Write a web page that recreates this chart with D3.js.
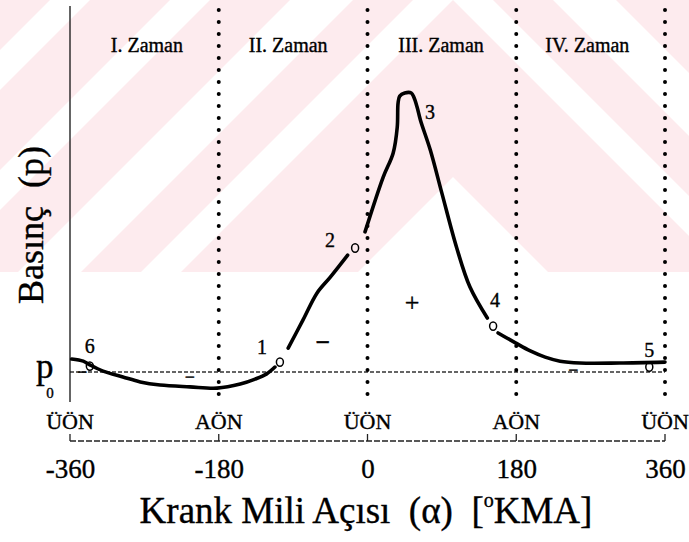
<!DOCTYPE html>
<html><head><meta charset="utf-8">
<script src="https://cdn.jsdelivr.net/npm/d3@7"></script>
<style>
body{margin:0;background:#fff}
svg{display:block}
text{font-family:"Liberation Serif","Times New Roman",serif;fill:#000;white-space:pre;stroke:#000;stroke-width:0.35px}
</style>
</head><body>
<svg id="c" width="689" height="542"></svg>
<script>
// ---------------- data ----------------
const tickAngles = [-360, -180, 0, 180, 360];
const tickLabels = ["-360", "-180", "0", "180", "360"];
const deadCenters = ["ÜÖN", "AÖN", "ÜÖN", "AÖN", "ÜÖN"];
const strokeNames = ["I. Zaman", "II. Zaman", "III. Zaman", "IV. Zaman"];
const strokeMid = [-267, -96, 89, 266];
const p0 = 1;
// pressure curve (relative units, p0 = 1), split at the marked points
const seg61 = [[-358,1.42],[-344,1.35],[-336,1.23],[-320,1.03],[-296,0.84],[-275,0.68],[-251,0.58],[-215,0.52],[-182,0.48],[-154,0.61],[-136,0.77],[-122,0.94],[-112,1.16]];
const seg12 = [[-96,1.77],[-78,2.68],[-61,3.55],[-45,4.06],[-24,4.77]];
const seg24 = [[-3,5.52],[19,7.29],[31,8.06],[36,8.9],[37,9.68],[39,9.9],[45,10.0],[53,10.0],[56,9.87],[60,9.55],[64,9.13],[76,8.16],[90,6.77],[108,5.0],[124,3.74],[145,2.74]];
const seg45 = [[158,2.26],[179,1.94],[197,1.68],[215,1.48],[233,1.35],[257,1.29],[305,1.29],[360,1.32]];
const pointLabels = ["1", "2", "3", "4", "5", "6"];
const pointAngles = [-106, -15, 49, 152, 341, -336];
const pointPress  = [1.32, 5.0, 10.03, 2.48, 1.16, 1.19];
const pointMarked = [true, true, false, true, true, true];
const signTexts  = ["+", "−", "−", "−", "−"];
const signAngles = [54, -54, -345, -215, 249];
const signPress  = [3.23, 1.94, 1.0, 0.84, 1.06];

// ---------------- layout ----------------
const W = 689, H = 542;
const svg = d3.select("#c");
const x = d3.scaleLinear().domain([-360, 360]).range([70, 665]);
const y = d3.scaleLinear().domain([0, 13]).range([403, 0]);

// faint watermark background
const defs = svg.append("defs");
defs.append("clipPath").attr("id", "wmclip").append("rect").attr("x", 0).attr("y", 0).attr("width", W).attr("height", 272);
const ax = 453;
const bands = [[-1000,-403],[-363,-283],[-243,-163],[-100,-40],[0,177]];
svg.append("g").attr("clip-path", "url(#wmclip)").selectAll("polygon").data(bands).join("polygon")
  .attr("points", ([f1, f2]) => [[0, f1 + ax], [ax, f1], [W, f1 + (W - ax)], [W, f2 + (W - ax)], [ax, f2], [0, f2 + ax]].map(p => p.join(",")).join(" "))
  .attr("fill", "#fdebee");

// p0 reference line
svg.append("line").attr("x1", x(-360)).attr("x2", x(360)).attr("y1", y(p0)).attr("y2", y(p0))
  .attr("stroke", "#333").attr("stroke-width", 1.3).attr("stroke-dasharray", "4 2");

// left axis line
svg.append("line").attr("x1", x(-360)).attr("x2", x(-360)).attr("y1", 6).attr("y2", 402)
  .attr("stroke", "#111").attr("stroke-width", 1.3);

// dotted dead-centre lines
svg.selectAll("line.dc").data(tickAngles.slice(1)).join("line").attr("class", "dc")
  .attr("x1", d => x(d)).attr("x2", d => x(d)).attr("y1", 10).attr("y2", 402)
  .attr("stroke", "#000").attr("stroke-width", 4).attr("stroke-linecap", "round")
  .attr("stroke-dasharray", "0 12");

// bracket at bottom
svg.append("line").attr("x1", x(-360)).attr("x2", x(360)).attr("y1", 441).attr("y2", 441)
  .attr("stroke", "#222").attr("stroke-width", 1.3).attr("stroke-dasharray", "6 2");
svg.selectAll("line.bt").data(tickAngles).join("line").attr("class", "bt")
  .attr("x1", d => x(d)).attr("x2", d => x(d)).attr("y1", 434).attr("y2", 441)
  .attr("stroke", "#222").attr("stroke-width", 1.3);

// curve
const line = d3.line().x(d => x(d[0])).y(d => y(d[1])).curve(d3.curveCatmullRom.alpha(0.5));
svg.selectAll("path.curve").data([seg61, seg12, seg24, seg45]).join("path").attr("class", "curve")
  .attr("d", line).attr("fill", "none").attr("stroke", "#000").attr("stroke-width", 3.6)
  .attr("stroke-linecap", "round").attr("stroke-linejoin", "round");

// point markers
const idx = d3.range(pointLabels.length);
svg.selectAll("ellipse.mk").data(idx.filter(i => pointMarked[i])).join("ellipse").attr("class", "mk")
  .attr("cx", i => x(pointAngles[i])).attr("cy", i => y(pointPress[i]))
  .attr("rx", 3.5).attr("ry", 4.2).attr("fill", "none").attr("stroke", "#000").attr("stroke-width", 1.5);
const labOff = {"1": [-18, -15], "2": [-25, -8], "3": [22, 20], "4": [2, -26], "5": [0, -17], "6": [0, -20]};
svg.selectAll("text.pl").data(idx).join("text").attr("class", "pl")
  .attr("x", i => x(pointAngles[i]) + labOff[pointLabels[i]][0])
  .attr("y", i => y(pointPress[i]) + labOff[pointLabels[i]][1])
  .attr("text-anchor", "middle").attr("dominant-baseline", "central")
  .attr("font-size", 20).text(i => pointLabels[i]);

// signs
svg.selectAll("text.sg").data(signTexts).join("text").attr("class", "sg")
  .attr("x", (d, i) => x(signAngles[i])).attr("y", (d, i) => y(signPress[i]))
  .attr("text-anchor", "middle").attr("dominant-baseline", "central")
  .attr("font-size", (d, i) => i < 2 ? 26 : 18).attr("font-weight", (d, i) => i === 1 ? "bold" : "normal")
  .text(d => d);

// stroke names
svg.selectAll("text.zn").data(strokeNames).join("text").attr("class", "zn")
  .attr("x", (d, i) => x(strokeMid[i])).attr("y", 52).attr("text-anchor", "middle")
  .attr("font-size", 20).text(d => d);

// dead-centre names
svg.selectAll("text.dn").data(deadCenters).join("text").attr("class", "dn")
  .attr("x", (d, i) => x(tickAngles[i])).attr("y", 429).attr("text-anchor", "middle")
  .attr("font-size", 22).text(d => d);

// x axis tick labels
const xAxis = d3.axisBottom(x).tickValues(tickAngles).tickFormat((d, i) => tickLabels[i]).tickSize(0).tickPadding(0);
const gx = svg.append("g").attr("transform", "translate(0,459)").call(xAxis);
gx.select(".domain").remove();
gx.selectAll("text").attr("font-size", 27).attr("font-family", "Liberation Serif").attr("fill", "#000");

// axis titles
const xt = svg.append("text").attr("x", 366).attr("y", 523).attr("text-anchor", "middle").attr("font-size", 37);
xt.append("tspan").text("Krank Mili Açısı  (α)  [");
xt.append("tspan").attr("font-size", 20).attr("dy", -16).text("o");
xt.append("tspan").attr("dy", 16).text("KMA]");

svg.append("text").attr("transform", "translate(43,225) rotate(-90)").attr("text-anchor", "middle")
  .attr("font-size", 36).text("Basınç  (p)");

// p0 label
svg.append("text").attr("x", 36).attr("y", 378).attr("font-size", 35).text("p");
svg.append("text").attr("x", 50).attr("y", 398).attr("text-anchor", "middle").attr("font-size", 15).text("0");
</script>
</body></html>
